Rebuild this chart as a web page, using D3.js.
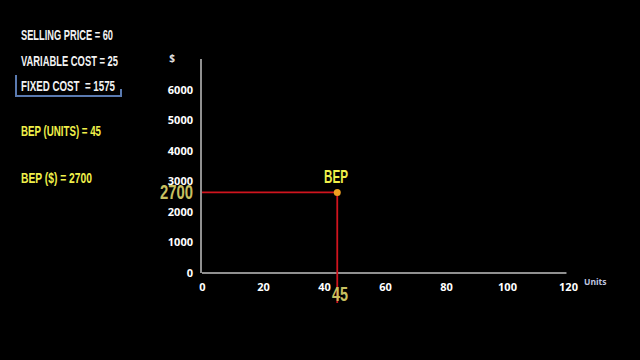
<!DOCTYPE html>
<html><head><meta charset="utf-8">
<script src="https://cdn.jsdelivr.net/npm/d3@7"></script>
<style>
html,body{margin:0;padding:0;background:#000;}
svg{display:block;}
.cond{font-family:"Liberation Sans","Arial",sans-serif;font-weight:bold;}
.axis{font-family:"Open Sans","Noto Sans",sans-serif;font-weight:bold;}
</style></head>
<body>
<svg id="chart" width="640" height="360"></svg>
<script>
const infoLines = ["SELLING PRICE = 60", "VARIABLE COST = 25", "FIXED COST  = 1575"];
const bepLines = ["BEP (UNITS) = 45", "BEP ($) = 2700"];
const xTicks = [0, 20, 40, 60, 80, 100, 120];
const yTicks = [0, 1000, 2000, 3000, 4000, 5000, 6000];
const bepUnits = [45];
const bepDollars = [2700];

const svg = d3.select("#chart");
svg.append("rect").attr("width",640).attr("height",360).attr("fill","#000");

const x = d3.scaleLinear().domain([0,120]).range([202,568]);
const y = d3.scaleLinear().domain([0,7000]).range([273,59]);

// layout of left texts (positions and widths only)
const infoY = [40, 66, 91], infoW = [92, 97, 94];
svg.selectAll("text.info").data(infoLines).enter().append("text")
  .attr("class","cond info").attr("x",21).attr("y",(d,i)=>infoY[i])
  .attr("fill","#f2f2f2").attr("font-size",15)
  .attr("textLength",(d,i)=>infoW[i]).attr("lengthAdjust","spacingAndGlyphs")
  .style("white-space","pre").text(d=>d);
// bracket
svg.append("path").attr("d","M16,75 V96 H121 V89").attr("fill","none")
  .attr("stroke","#5a7ab0").attr("stroke-width",2);

const bepY = [136, 183], bepW = [80, 71];
svg.selectAll("text.bep").data(bepLines).enter().append("text")
  .attr("class","cond bep").attr("x",21).attr("y",(d,i)=>bepY[i])
  .attr("fill","#f0f04a").attr("font-size",15)
  .attr("textLength",(d,i)=>bepW[i]).attr("lengthAdjust","spacingAndGlyphs")
  .text(d=>d);

// axes
const xAxis = d3.axisBottom(x).tickValues(xTicks).tickSize(0).tickPadding(10).tickFormat(d3.format("d"));
const gx = svg.append("g").attr("transform",`translate(0,${y(0)})`).call(xAxis);
gx.select(".domain").attr("stroke","#c0c0c0").attr("stroke-width",1.5).attr("d",`M${x(0)},0H${x(119.5)}`);
gx.selectAll("text").attr("fill","#fff").attr("font-size",11)
  .attr("font-family","'Open Sans','Noto Sans',sans-serif").attr("font-weight","bold");

const yAxis = d3.axisLeft(y).tickValues(yTicks).tickSize(0).tickPadding(8).tickFormat(d3.format("d"));
const gy = svg.append("g").attr("transform",`translate(${x(0)-1},0)`).call(yAxis);
gy.select(".domain").attr("stroke","#c0c0c0").attr("stroke-width",1.5).attr("d",`M0,${y(0)}V${y(7000)}`);
gy.selectAll("text").attr("fill","#fff").attr("font-size",11)
  .attr("font-family","'Open Sans','Noto Sans',sans-serif").attr("font-weight","bold");

svg.append("text").attr("class","axis").attr("x",172).attr("y",62).attr("text-anchor","middle")
  .attr("fill","#e0e0e0").attr("font-size",10).text("$");
svg.append("text").attr("class","axis").attr("x",584).attr("y",285)
  .attr("fill","#c0c8e0").attr("font-size",8.5).text("Units");

// BEP lines
const bx = x(bepUnits[0]) - 2, by = y(bepDollars[0]) + 2;
svg.append("line").attr("x1",x(0)).attr("x2",bx).attr("y1",by).attr("y2",by)
  .attr("stroke","#d0141e").attr("stroke-width",1.8);
svg.append("line").attr("x1",bx).attr("x2",bx).attr("y1",by).attr("y2",y(0)+30)
  .attr("stroke","#d0141e").attr("stroke-width",1.8);
svg.append("circle").attr("cx",bx).attr("cy",by).attr("r",3.5).attr("fill","#f0a020");

svg.append("text").attr("class","cond").attr("x",324).attr("y",183)
  .attr("fill","#f0f04a").attr("font-size",18)
  .attr("textLength",24).attr("lengthAdjust","spacingAndGlyphs").text("BEP");
svg.append("text").attr("class","cond").attr("x",160).attr("y",199)
  .attr("fill","#c8c060").attr("font-size",20)
  .attr("textLength",33).attr("lengthAdjust","spacingAndGlyphs").text(String(bepDollars[0]));
svg.append("text").attr("class","cond").attr("x",332).attr("y",301)
  .attr("fill","#c8c060").attr("font-size",20)
  .attr("textLength",16).attr("lengthAdjust","spacingAndGlyphs").text(String(bepUnits[0]));
</script>
</body></html>
